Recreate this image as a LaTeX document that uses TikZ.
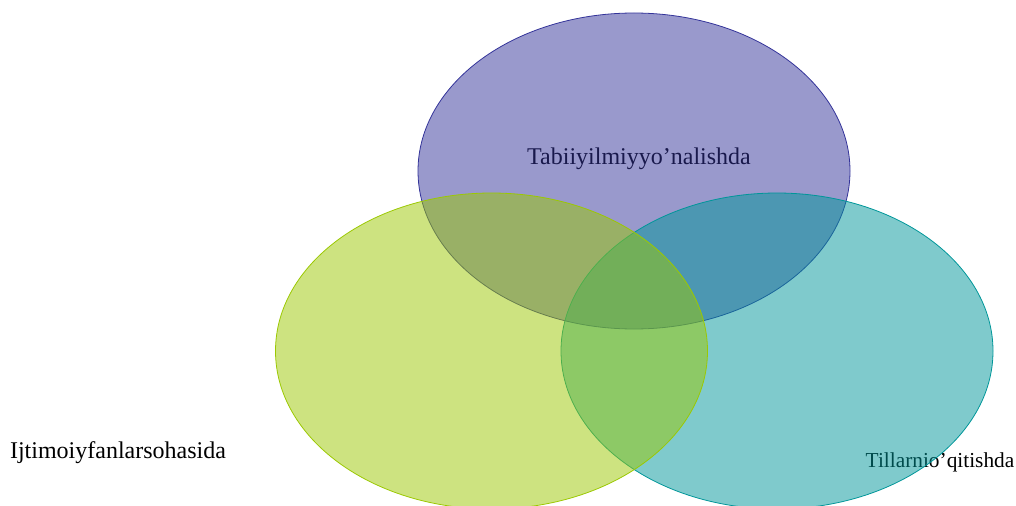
\documentclass[tikz,border=0pt]{standalone}
\usepackage{fontspec}
\setmainfont{Liberation Serif}
\usepackage{xcolor}
\usepackage{tikz}
\usetikzlibrary{shapes.geometric, positioning}

\definecolor{vennblue}{RGB}{51,51,153}
\definecolor{venngreen}{RGB}{155,200,2}
\definecolor{vennteal}{RGB}{0,150,153}

\begin{document}
\begin{tikzpicture}[x=0.75pt,y=-0.75pt]
		\tikzset{
			label/.style={inner sep=0pt, text=black, font=\fontsize{18}{22}\selectfont},
			circ/.style={ellipse, fill opacity=0.5, line width=0.6pt,
			minimum width=324pt, minimum height=237pt, inner sep=0pt}
		}
		\useasboundingbox (0,0) rectangle (1016,506);

		% labels first, the circles tint them
		\node[label](science) at (639,159){Tabiiyilmiyyo’nalishda};
		\node[label](social) at (118,453){Ijtimoiyfanlarsohasida};
		\node[label, font=\fontsize{16}{20}\selectfont](lang) at (940,462){Tillarnio’qitishda};

		\node[circ, draw=vennblue, fill=vennblue](top) at (634,171){};
		\node[circ, draw=vennteal, fill=vennteal](right) at (777,351){};
		\node[circ, draw=venngreen, fill=venngreen](left) at (491.5,351){};

	\end{tikzpicture}
\end{document}
